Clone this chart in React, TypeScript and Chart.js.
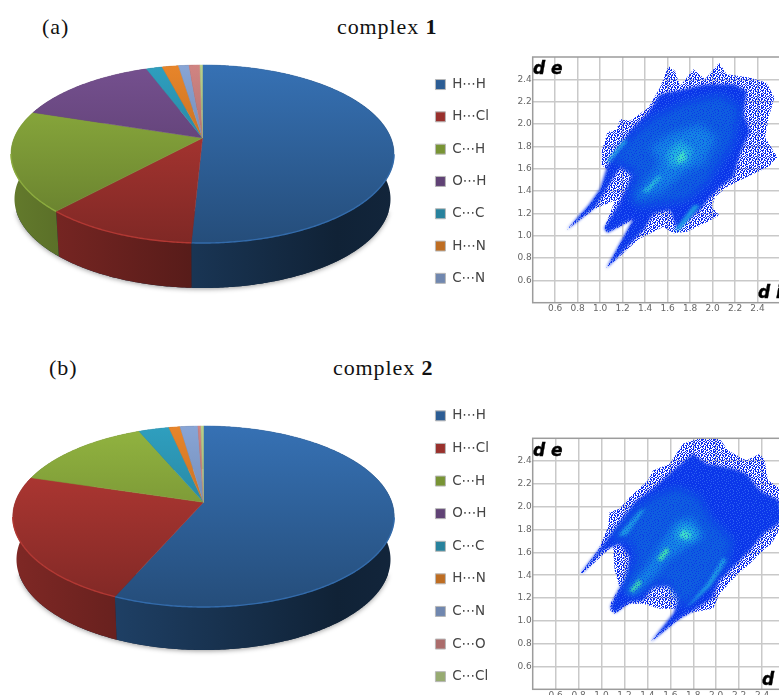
import React, { useEffect, useRef } from "react";
import { Chart, registerables } from "chart.js";

Chart.register(...registerables);

// ---------- data ----------
const contactsA = ["H⋯H", "H⋯Cl", "C⋯H", "O⋯H", "C⋯C", "H⋯N", "C⋯N", "C⋯O", "C⋯Cl"];
const contactsB = ["H⋯H", "H⋯Cl", "C⋯H", "O⋯H", "C⋯C", "H⋯N", "C⋯N", "C⋯O", "C⋯Cl"];
const sharesA = [50.8, 11.0, 18.3, 14.3, 1.6, 1.65, 1.05, 1.1, 0.25];
const sharesB = [56.6, 23.1, 13.9, 0.0, 3.0, 1.1, 1.75, 0.3, 0.25];
const sliceColors = ["#3671b4", "#bb3b36", "#92b440", "#75508f", "#2f9fbf", "#e8852a", "#88a5d6", "#d08482", "#b8d08a"];
const legendCountA = 7;
const legendCountB = 9;

const axisTicks = [0.6, 0.8, 1.0, 1.2, 1.4, 1.6, 1.8, 2.0, 2.2, 2.4];

type Pt = [number, number];

const envelopeA: Pt[] = [[0.7,1.05],[0.9,1.27],[1.0,1.407],[1.074,1.585],[1.015,1.63],[1.015,1.762],[1.065,1.926],[1.148,1.955],[1.178,2.044],[1.267,2.03],[1.43,2.148],[1.533,2.326],[1.607,2.519],[1.667,2.474],[1.711,2.34],[1.83,2.49],[1.933,2.4],[2.058,2.548],[2.126,2.445],[2.333,2.415],[2.48,2.37],[2.55,2.237],[2.5,2.06],[2.467,1.88],[2.576,1.703],[2.496,1.614],[2.333,1.54],[2.126,1.436],[2.022,1.347],[1.993,1.258],[2.06,1.184],[1.904,1.095],[1.77,1.036],[1.652,1.021],[1.563,1.08],[1.474,1.036],[1.341,0.968],[1.053,0.704],[1.296,1.14],[1.065,1.027],[1.036,1.066],[1.133,1.318],[0.95,1.24]];
const denseA: Pt[] = [[1.065,1.629],[1.178,1.792],[1.267,1.94],[1.43,2.104],[1.533,2.267],[1.681,2.296],[1.948,2.356],[2.185,2.356],[2.304,2.296],[2.274,2.089],[2.333,1.94],[2.244,1.733],[2.185,1.525],[2.067,1.436],[1.978,1.347],[1.889,1.229],[1.681,1.066],[1.622,1.229],[1.474,1.199],[1.385,1.051],[1.053,0.704],[1.296,1.155],[1.065,1.027],[1.036,1.066],[1.178,1.303],[1.252,1.466],[1.281,1.54],[1.178,1.614],[0.956,1.258],[0.702,1.051],[0.896,1.273],[1.0,1.421]];
const midA: Pt[] = [[1.089,1.674],[1.237,1.851],[1.474,2.059],[1.711,2.178],[2.067,2.267],[2.244,2.148],[2.185,1.822],[2.067,1.644],[1.948,1.466],[1.77,1.318],[1.593,1.288],[1.326,1.258],[1.267,1.347],[1.326,1.555],[1.207,1.644]];
const lightA: Pt[] = [[1.444,1.792],[1.622,1.911],[1.889,2.0],[2.037,1.881],[1.919,1.644],[1.77,1.585],[1.563,1.407],[1.296,1.318],[1.4,1.466],[1.533,1.644]];
const ridgeA1: Pt[] = [[1.053,1.659],[1.207,1.851],[1.252,1.851],[1.089,1.659]];
const ridgeA2: Pt[] = [[1.658,1.045],[1.83,1.273],[1.889,1.273],[1.711,1.051]];
const ridgeA3: Pt[] = [[1.37,1.392],[1.519,1.54],[1.548,1.525],[1.43,1.392]];
const coreA: Pt[] = [[1.593,1.733],[1.711,1.851],[1.83,1.763],[1.77,1.644],[1.622,1.614]];
const hotA: Pt[] = [[1.681,1.703],[1.741,1.763],[1.77,1.688],[1.696,1.644]];

const envelopeB: Pt[] = [[0.818,1.418],[0.969,1.617],[1.057,1.821],[1.071,1.953],[1.158,1.982],[1.246,2.084],[1.405,2.23],[1.449,2.318],[1.594,2.377],[1.711,2.552],[1.827,2.596],[2.03,2.596],[2.103,2.494],[2.263,2.406],[2.38,2.464],[2.423,2.406],[2.452,2.23],[2.548,2.172],[2.583,1.851],[2.481,1.675],[2.423,1.632],[2.292,1.5],[2.176,1.398],[2.03,1.237],[1.972,1.106],[1.798,1.076],[1.682,1.018],[1.426,0.813],[1.653,1.076],[1.655,1.105],[1.507,1.105],[1.362,1.149],[1.246,1.149],[1.115,1.062],[1.077,1.091],[1.077,1.149],[1.158,1.295],[1.115,1.442],[1.1,1.661],[0.838,1.418]];
const denseB: Pt[] = [[0.984,1.632],[1.129,1.821],[1.304,2.055],[1.449,2.158],[1.624,2.318],[1.798,2.464],[1.914,2.377],[2.147,2.333],[2.263,2.289],[2.38,2.143],[2.548,2.055],[2.583,1.88],[2.409,1.763],[2.292,1.617],[2.147,1.471],[2.03,1.354],[1.958,1.193],[1.798,1.091],[1.653,1.003],[1.426,0.813],[1.624,1.062],[1.682,1.208],[1.594,1.31],[1.449,1.296],[1.362,1.179],[1.246,1.164],[1.115,1.068],[1.077,1.12],[1.129,1.237],[1.216,1.383],[1.246,1.558],[1.158,1.675],[1.013,1.617],[0.838,1.427],[0.818,1.418]];
const midB: Pt[] = [[1.071,1.705],[1.275,1.968],[1.449,2.085],[1.653,2.172],[1.856,2.085],[1.943,1.909],[2.147,1.705],[2.089,1.5],[1.827,1.208],[1.711,1.12],[1.653,1.208],[1.565,1.354],[1.275,1.237],[1.187,1.266],[1.304,1.558],[1.246,1.705],[1.129,1.705]];
const lightB: Pt[] = [[1.216,1.252],[1.391,1.471],[1.507,1.661],[1.653,1.88],[1.798,1.909],[1.9,1.734],[1.769,1.661],[1.594,1.544],[1.449,1.383],[1.289,1.222]];
const ridgeB1: Pt[] = [[1.144,1.748],[1.333,1.968],[1.385,1.982],[1.216,1.748]];
const ridgeB2: Pt[] = [[1.74,1.12],[1.914,1.325],[2.06,1.558],[2.095,1.529],[1.943,1.296],[1.798,1.164]];
const coreB: Pt[] = [[1.638,1.749],[1.711,1.851],[1.827,1.792],[1.813,1.705],[1.682,1.705]];
const hotB1: Pt[] = [[1.676,1.749],[1.717,1.798],[1.783,1.749],[1.74,1.711]];
const hotB2: Pt[] = [[1.484,1.544],[1.565,1.646],[1.594,1.611],[1.522,1.523]];
const hotB3: Pt[] = [[1.246,1.266],[1.333,1.369],[1.347,1.325],[1.275,1.252]];

// ---------- styles ----------
const SPECKLE = [
  "#..##.#.#..#",
  "#.#..##.##.#",
  "..##.#...#.#",
  ".#..##.##.#.",
  "##.#.#..#..#",
  "#..#.##.#.#.",
  ".#.#...###..",
  "#.##.#.#...#",
  ".#..##..##.#",
  "##.#...#.#.#",
  "#..#.##.#..#",
  ".##.#..#.##.",
];
const GRAIN = [
  "...#.....#...#.",
  ".#.....#.....#.",
  "....#.....#....",
  "..#.....#....#.",
  "......#.....#..",
  ".#..#.....#....",
  "......#.#.....#",
  "..#.........#..",
  ".....#..#......",
  "#.........#..#.",
  "...#..#........",
  ".....#.....#...",
  ".#.......#....#",
  "....#.#........",
  "..#.......#.#..",
];

const shade = (hex: string, f: number) => {
  const n = parseInt(hex.slice(1), 16);
  const c = (v: number) => Math.min(255, Math.round(v * f));
  return `rgb(${c((n >> 16) & 255)},${c((n >> 8) & 255)},${c(n & 255)})`;
};

const pie3dPlugin = {
  id: "pie3d",
  beforeDatasetDraw(chart: any, _args: any, o: any) {
    const ctx = chart.ctx as CanvasRenderingContext2D;
    const arcs = chart.getDatasetMeta(0).data;
    const colors = chart.data.datasets[0].backgroundColor as string[];
    const a = o.a as number;
    const s = Math.sqrt(1 - a * a);
    const rim = (t: number) => {
      const u = Math.sin(t);
      const v = -Math.cos(t);
      const d = 1 + a * v;
      return [(u * s) / d, (v + a) / d];
    };
    const top = (t: number) => {
      const [u, v] = rim(t);
      return [o.cx + o.rx * u, o.ey + o.ry * v];
    };
    const bottom = (t: number) => {
      const [u, v] = rim(t);
      return [o.cx + o.rxB * u, o.ey + o.depth + o.ry * v];
    };
    const angles = arcs.map((arc: any) => [arc.startAngle + Math.PI / 2, arc.endAngle + Math.PI / 2]);
    const steps = (t0: number, t1: number) => {
      const out: number[] = [];
      const n = Math.max(2, Math.ceil((t1 - t0) / 0.01));
      for (let i = 0; i <= n; i++) out.push(t0 + ((t1 - t0) * i) / n);
      return out;
    };
    ctx.save();
    // soft shadow under the drum
    ctx.save();
    ctx.shadowColor = "rgba(0,0,0,0.4)";
    ctx.shadowBlur = 5;
    ctx.shadowOffsetY = 1;
    ctx.fillStyle = "#14263f";
    ctx.beginPath();
    steps(Math.PI * 0.6, Math.PI * 1.4).forEach((t, i) => {
      const p = bottom(t);
      i ? ctx.lineTo(p[0], p[1]) : ctx.moveTo(p[0], p[1]);
    });
    ctx.closePath();
    ctx.fill();
    ctx.restore();
    // side wall
    angles.forEach(([t0, t1]: number[], i: number) => {
      if (t1 - t0 <= 0) return;
      const g = ctx.createLinearGradient(o.cx - o.rx, 0, o.cx + o.rx, 0);
      g.addColorStop(0, shade(colors[i], 0.68));
      g.addColorStop(0.85, shade(colors[i], 0.3));
      g.addColorStop(1, shade(colors[i], 0.33));
      ctx.fillStyle = g;
      ctx.beginPath();
      const ts = steps(t0, t1);
      ts.forEach((t, k) => {
        const p = top(t);
        k ? ctx.lineTo(p[0], p[1]) : ctx.moveTo(p[0], p[1]);
      });
      ts.slice().reverse().forEach((t) => {
        const p = bottom(t);
        ctx.lineTo(p[0], p[1]);
      });
      ctx.closePath();
      ctx.fill();
    });
    // top face
    const apex = [o.cx, o.ey + o.ry * a];
    angles.forEach(([t0, t1]: number[], i: number) => {
      if (t1 - t0 <= 0) return;
      const g = ctx.createLinearGradient(0, o.ey - o.ry, 0, o.ey + o.ry);
      g.addColorStop(0, colors[i]);
      g.addColorStop(1, shade(colors[i], 0.68));
      ctx.fillStyle = g;
      ctx.strokeStyle = g;
      ctx.lineWidth = 0.5;
      ctx.beginPath();
      ctx.moveTo(apex[0], apex[1]);
      steps(t0, t1).forEach((t) => {
        const p = top(t);
        ctx.lineTo(p[0], p[1]);
      });
      ctx.closePath();
      ctx.fill();
      ctx.stroke();
      // bright lip on the front rim
      ctx.strokeStyle = shade(colors[i], 0.95);
      ctx.lineWidth = 1.4;
      ctx.beginPath();
      let started = false;
      steps(t0, t1).forEach((t) => {
        const p = top(t);
        if (rim(t)[1] < 0) {
          started = false;
          return;
        }
        started ? ctx.lineTo(p[0], p[1]) : ctx.moveTo(p[0], p[1]);
        started = true;
      });
      ctx.stroke();
    });
    ctx.restore();
    return false;
  },
};

const polygonPlugin = {
  id: "polygons",
  beforeDatasetDraw(chart: any, args: any) {
    const ctx = chart.ctx as CanvasRenderingContext2D;
    const ds = chart.data.datasets[args.index];
    const pts = args.meta.data;
    const ca = chart.chartArea;
    ctx.save();
    ctx.beginPath();
    ctx.rect(ca.left, ca.top, ca.right - ca.left, ca.bottom - ca.top);
    ctx.clip();
    (ctx as any).filter = `blur(${ds.blur}px)`;
    ctx.fillStyle = ds.backgroundColor;
    ctx.beginPath();
    pts.forEach((p: any, i: number) => (i ? ctx.lineTo(p.x, p.y) : ctx.moveTo(p.x, p.y)));
    ctx.closePath();
    ctx.fill();
    ctx.restore();
    return false;
  },
  afterDraw(chart: any) {
    const ctx = chart.ctx as CanvasRenderingContext2D;
    const ca = chart.chartArea;
    ctx.save();
    ctx.strokeStyle = "#9c9c9c";
    ctx.lineWidth = 1.5;
    ctx.strokeRect(ca.left, ca.top, ca.right - ca.left, ca.bottom - ca.top);
    ctx.restore();
  },
};

function PiePanel(props: {
  labels: string[]; values: number[]; shown: number; top: number; height: number; geom: any; padding: number; paddingTop: number; width: number;
}) {
  const ref = useRef<HTMLCanvasElement>(null);
  useEffect(() => {
    const chart = new Chart(ref.current!, {
      type: "pie",
      data: {
        labels: props.labels,
        datasets: [{ data: props.values, backgroundColor: sliceColors, borderWidth: 0 }],
      },
      options: {
        responsive: false,
        animation: false,
        devicePixelRatio: 1,
        layout: { padding: { right: 0, top: props.paddingTop, bottom: 0, left: 0 } },
        plugins: {
          tooltip: { enabled: false },
          pie3d: props.geom,
          legend: {
            position: "right",
            align: "start",
            labels: {
              boxWidth: 10,
              boxHeight: 10,
              padding: props.padding,
              color: "#444",
              font: { family: "'DejaVu Sans'", size: 13.5 },
              filter: (item: any) => item.index < props.shown,
              generateLabels: (c: any) =>
                (Chart.overrides.pie.plugins.legend.labels as any).generateLabels(c).map((it: any, i: number) => ({
                  ...it,
                  fillStyle: shade(sliceColors[i], 0.82),
                  strokeStyle: "#b8b8b8",
                  lineWidth: 1,
                })),
            },
          },
        } as any,
      },
      plugins: [pie3dPlugin as any],
    });
    return () => chart.destroy();
  }, []);
  return (
    <canvas
      ref={ref}
      width={props.width}
      height={props.height}
      style={{ position: "absolute", left: 0, top: props.top, width: props.width, height: props.height }}
    />
  );
}

function tile(rows: string[], color: string): CanvasPattern {
  const c = document.createElement("canvas");
  c.width = c.height = rows.length;
  const x = c.getContext("2d")!;
  x.fillStyle = color;
  rows.forEach((row, j) => row.split("").forEach((ch, i) => ch === "#" && x.fillRect(i, j, 1, 1)));
  return x.createPattern(c, "repeat")!;
}

function Fingerprint(props: {
  layers: { pts: Pt[]; color: string; blur: number }[]; top: number; width: number; height: number; padTop: number; xHeight: number;
}) {
  const ref = useRef<HTMLCanvasElement>(null);
  useEffect(() => {
    const patterns: Record<string, CanvasPattern> = {
      speckle: tile(SPECKLE, "#0c2cf0"),
      grainDark: tile(GRAIN, "rgba(10,30,235,0.55)"),
      grainLight: tile(GRAIN, "rgba(120,200,255,0.3)"),
    };
    const axis = {
      type: "linear" as const,
      min: 0.4,
      max: 2.6,
      afterBuildTicks: (s: any) => {
        s.ticks = axisTicks.map((v) => ({ value: v }));
      },
      grid: { color: "#c9c9c9", lineWidth: 1.5, drawTicks: false },
      border: { display: false },
      ticks: {
        color: "#666",
        padding: 1,
        maxRotation: 0,
        autoSkip: false,
        font: { family: "'DejaVu Sans'", size: 9 },
        callback: (v: any) => Number(v).toFixed(1),
      },
    };
    const chart = new Chart(ref.current!, {
      type: "scatter",
      data: {
        // Chart.js paints the first dataset last, so the top layer comes first
        datasets: props.layers.slice().reverse().map((l) => ({
          data: l.pts.map(([x, y]) => ({ x, y })),
          backgroundColor: patterns[l.color] ?? l.color,
          blur: l.blur,
          pointRadius: 0,
        })) as any,
      },
      options: {
        responsive: false,
        animation: false,
        devicePixelRatio: 1,
        layout: { padding: { top: props.padTop, left: 0, right: 0, bottom: 0 } },
        plugins: { legend: { display: false }, tooltip: { enabled: false } },
        scales: {
          x: { ...axis, afterFit: (s: any) => { s.height = props.xHeight; } },
          y: { ...axis, afterFit: (s: any) => { s.width = 22.7; } },
        } as any,
      },
      plugins: [polygonPlugin as any],
    });
    return () => chart.destroy();
  }, []);
  return (
    <canvas
      ref={ref}
      width={props.width}
      height={props.height}
      style={{ position: "absolute", left: 510, top: props.top, width: props.width, height: props.height }}
    />
  );
}

const serif: React.CSSProperties = {
  position: "absolute",
  fontFamily: "'Liberation Serif', serif",
  fontSize: 22,
  letterSpacing: 0.9,
  color: "#111",
  lineHeight: "26px",
  whiteSpace: "nowrap",
};
const axisName: React.CSSProperties = {
  position: "absolute",
  fontFamily: "'DejaVu Sans', sans-serif",
  fontWeight: 700,
  fontStyle: "italic",
  fontSize: 17,
  color: "#000",
  lineHeight: "18px",
  whiteSpace: "pre",
  WebkitTextStroke: "0.4px #000",
};

const layersA = [
  { pts: envelopeA, color: "speckle", blur: 0.4 },
  { pts: denseA, color: "#0b36ea", blur: 1.5 },
  { pts: denseA, color: "grainLight", blur: 0.3 },
  { pts: midA, color: "#0f5ee0", blur: 4 },
  { pts: lightA, color: "#1583e4", blur: 4 },
  { pts: ridgeA1, color: "#1e9ae4", blur: 1.8 },
  { pts: ridgeA2, color: "#1e9ae4", blur: 1.8 },
  { pts: ridgeA3, color: "#28b8dc", blur: 1.8 },
  { pts: coreA, color: "#22b4e0", blur: 3 },
  { pts: hotA, color: "#3fe0c8", blur: 1.5 },
  { pts: midA, color: "grainDark", blur: 0.3 },
];
const layersB = [
  { pts: envelopeB, color: "speckle", blur: 0.4 },
  { pts: denseB, color: "#0b36ea", blur: 1.5 },
  { pts: denseB, color: "grainLight", blur: 0.3 },
  { pts: midB, color: "#0f5ee0", blur: 4 },
  { pts: lightB, color: "#1583e4", blur: 3 },
  { pts: ridgeB1, color: "#1e9ae4", blur: 1.8 },
  { pts: ridgeB2, color: "#1e9ae4", blur: 1.8 },
  { pts: coreB, color: "#22b4e0", blur: 3 },
  { pts: hotB1, color: "#3fe0c8", blur: 1.5 },
  { pts: hotB2, color: "#3fe0b0", blur: 1.5 },
  { pts: hotB3, color: "#3fe0b0", blur: 1.5 },
  { pts: midB, color: "grainDark", blur: 0.3 },
];

export default function App() {
  return (
    <div style={{ position: "fixed", left: 0, top: 0, width: 779, height: 695, overflow: "hidden", background: "#fff" }}>
      <div style={{ ...serif, left: 42, top: 14 }}>(a)</div>
      <div style={{ ...serif, left: 337, top: 14 }}>complex <b>1</b></div>
      <div style={{ ...serif, left: 49, top: 355 }}>(b)</div>
      <div style={{ ...serif, left: 333, top: 355 }}>complex <b>2</b></div>

      <PiePanel labels={contactsA} values={sharesA} shown={legendCountA} top={50} height={340} width={499} padding={18.8} paddingTop={9}
        geom={{ cx: 202.5, ey: 104, rx: 191.5, rxB: 188, ry: 89, a: -0.18, depth: 45 }} />
      <PiePanel labels={contactsB} values={sharesB} shown={legendCountB} top={385} height={340} width={499} padding={19.1} paddingTop={5}
        geom={{ cx: 203.5, ey: 131.5, rx: 190.7, rxB: 187, ry: 90.5, a: -0.157, depth: 43 }} />

      <Fingerprint layers={layersA} top={50} width={270} height={270} padTop={7} xHeight={17.3} />
      <Fingerprint layers={layersB} top={430} width={275} height={280} padTop={8.3} xHeight={20.7} />

      <div style={{ ...axisName, left: 533, top: 59 }}>{"d e"}</div>
      <div style={{ ...axisName, left: 758, top: 283 }}>{"d i"}</div>
      <div style={{ ...axisName, left: 533, top: 441 }}>{"d e"}</div>
      <div style={{ ...axisName, left: 762, top: 670 }}>{"d i"}</div>
    </div>
  );
}
